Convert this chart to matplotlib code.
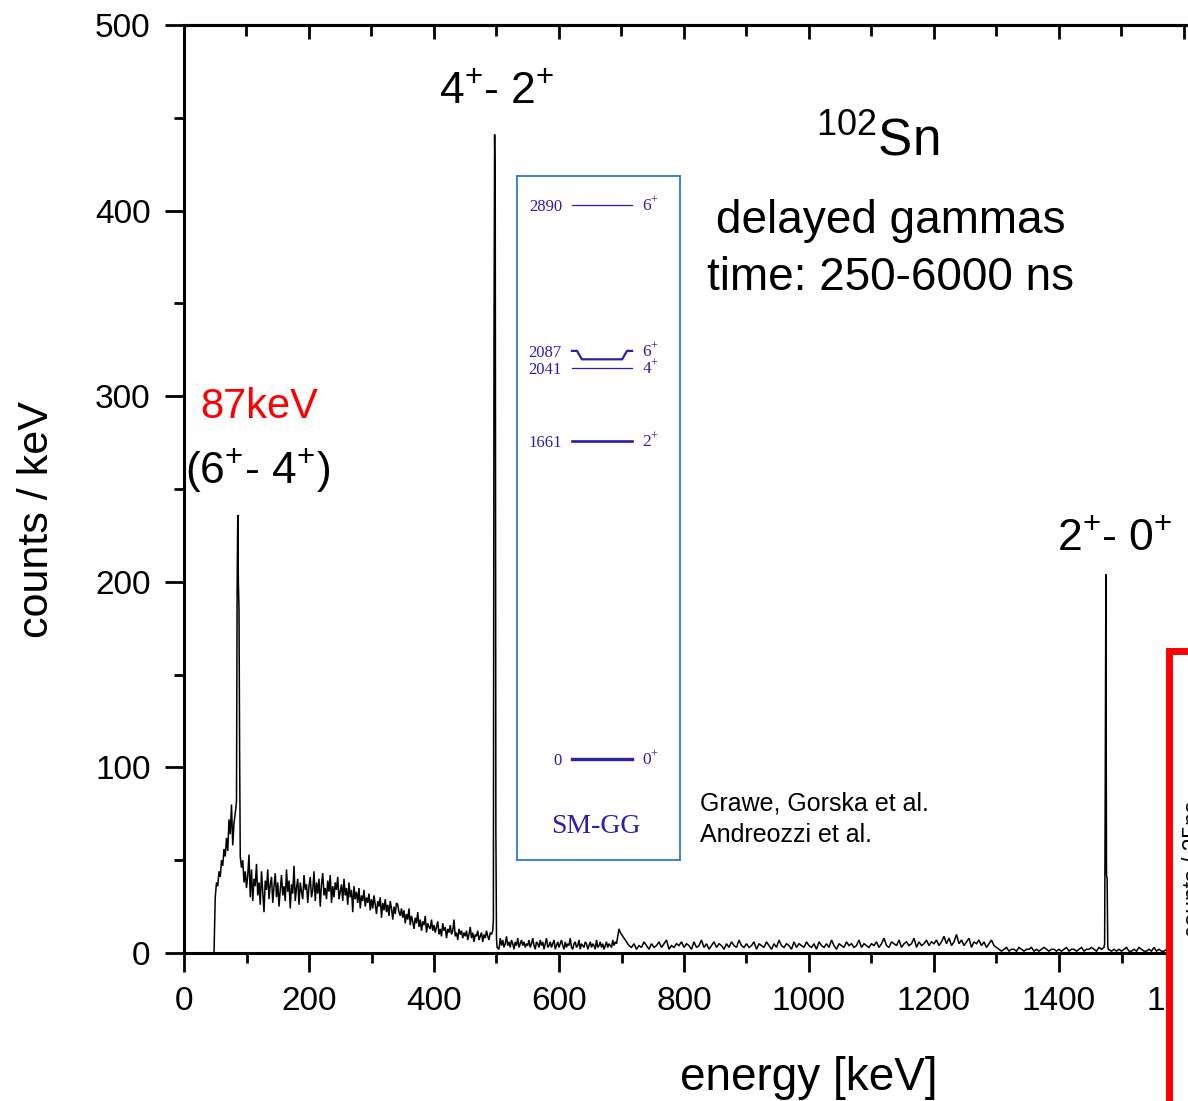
import numpy as np
import matplotlib
matplotlib.use("Agg")
import matplotlib.pyplot as plt
from matplotlib.patches import Rectangle
from matplotlib.ticker import MultipleLocator

plt.rcParams['font.family'] = ['Liberation Sans', 'DejaVu Sans']

# ---------------- data ----------------
# low-energy part of the spectrum, 2 keV sampling
low_start_kev = 48
low_step_kev = 2
low_counts = (
    [0, 30, 38, 36, 44, 41, 50, 47, 56, 52, 62, 55, 72, 64, 80, 58, 70, 76, 80, 90, 80, 70, 46, 50, 38, 44] +
    [35, 42, 53, 30, 45, 28, 40, 36, 48, 31, 38, 26, 44, 33, 22, 39, 34, 45, 29, 37, 41, 27, 36, 43, 30] +
    [38, 25, 34, 42, 31, 36, 28, 45, 33, 39, 24, 37, 32, 47, 28, 35, 40, 26, 38, 33, 29, 42, 34, 37, 27] +
    [36, 41, 30, 34, 44, 28, 38, 32, 40, 25, 37, 43, 31, 35, 29, 39, 33, 42, 27, 36, 30, 38, 34, 41, 29] +
    [33, 37, 28, 40, 31, 35, 26, 38, 30, 34, 22, 36, 29, 33, 27, 35, 24, 31, 28, 34, 25, 30, 27, 32, 23] +
    [29, 24, 31, 26, 21, 28, 25, 30, 19, 27, 23, 29, 22, 26, 20, 28, 24, 18, 25, 21, 27, 26, 22, 20, 24] +
    [19, 23, 16, 21, 18, 24, 15, 20, 17, 13, 19, 16, 22, 14, 18, 12, 17, 15, 20, 11, 16, 14, 13, 18, 12] +
    [15, 11, 14, 17, 10, 13, 9, 16, 12, 14, 8, 13, 11, 15, 10, 12, 18, 9, 11, 7, 13, 10, 12, 8, 11] +
    [9, 12, 7, 10, 14, 8, 11, 6, 10, 9, 12, 7, 9, 11, 6, 10, 8, 12, 9, 7, 11, 10, 14, 12, 10] +
    [3, 5, 2, 8, 4, 7, 3, 5, 9, 4, 6, 3, 7, 5, 2, 6, 4, 8, 3, 5, 7, 4, 6, 3, 5] +
    [4, 7, 3, 5, 8, 4, 2, 6, 5, 3, 7, 4, 6, 2, 5, 8, 3, 4, 6, 3, 5, 7, 2, 4, 6] +
    [3, 5, 7, 4, 2, 6, 3, 5, 4, 8, 3, 2, 5, 6, 3, 4, 7, 2, 5, 4, 3, 6, 5, 2, 4] +
    [6, 3, 5, 4, 2, 7, 3, 4, 6, 3, 5, 2, 4, 6, 3, 5, 4, 3, 7, 4, 6, 5, 9, 13, 11]
)
# higher-energy part, 4 keV sampling
high_start_kev = 700
high_step_kev = 4
high_counts = (
    [10, 8, 6, 4, 3, 5, 2, 4, 3, 6, 4, 2, 5, 3, 4, 6, 3, 5, 7, 2, 4, 3, 5, 4, 6] +
    [3, 5, 4, 2, 6, 3, 4, 7, 3, 5, 2, 4, 6, 3, 5, 4, 2, 5, 3, 6, 4, 3, 7, 4, 3] +
    [5, 3, 4, 6, 2, 5, 4, 3, 6, 4, 2, 5, 3, 7, 4, 3, 5, 4, 2, 6, 3, 5, 4, 3, 6] +
    [4, 3, 5, 2, 6, 4, 3, 5, 3, 7, 4, 2, 5, 4, 3, 6, 4, 5, 3, 4, 7, 3, 5, 4, 3] +
    [5, 4, 6, 3, 5, 8, 4, 3, 6, 5, 4, 7, 3, 5, 6, 4, 5, 8, 3, 6, 4, 5, 7, 4, 6] +
    [5, 7, 4, 6, 9, 5, 8, 4, 6, 10, 5, 7, 4, 6, 8, 3, 6, 5, 7, 4, 6, 3, 5, 7, 4] +
    [3, 2, 1, 2, 3, 1, 2, 2, 1, 3, 2, 1, 2, 2, 3, 1, 2, 1, 2, 3, 2, 1, 2, 2, 1] +
    [2, 1, 2, 3, 1, 2, 2, 1, 2, 3, 1, 2, 2, 3, 2, 1, 3, 2, 3, 4, 2, 1, 2, 1, 2] +
    [1, 2, 3, 1, 1, 2, 1, 3, 2, 1, 1, 2, 1, 3, 1, 2, 1, 1, 2, 1, 2, 1, 1, 2, 1, 1, 2, 1]
)

peak87_energy = [83, 84, 85, 86, 87, 88, 89, 90]
peak87_counts = [78, 82, 196, 236, 200, 185, 108, 52]
peak497_energy = [494, 495, 496, 497, 498, 499, 500, 501]
peak497_counts = [12, 18, 330, 441, 403, 65, 8, 3]
peak1475_energy = [1472, 1473, 1474, 1475, 1476, 1477, 1478, 1479]
peak1475_counts = [3, 5, 90, 204, 42, 40, 4, 2]

x_ticks_major = [0, 200, 400, 600, 800, 1000, 1200, 1400, 1600, 1800, 2000]
y_ticks_major = [0, 100, 200, 300, 400, 500]

level_energy = [0, 1661, 2041, 2087, 2890]
level_label = ['0', '1661', '2041', '2087', '2890']
level_spin = ['0', '2', '4', '6', '6']
level_width = [2.4, 1.9, 0.9, 1.6, 0.9]

# ---------------- build spectrum ----------------
low_energy = low_start_kev + low_step_kev * np.arange(len(low_counts))
high_energy = high_start_kev + high_step_kev * np.arange(len(high_counts))
E = list(low_energy) + list(high_energy)
C = list(low_counts) + list(high_counts)
windows = [(min(p) - 1, max(p) + 1) for p in (peak87_energy, peak497_energy, peak1475_energy)]
keepE, keepC = [], []
for e, c in zip(E, C):
    if not any(lo <= e <= hi for lo, hi in windows):
        keepE.append(e)
        keepC.append(c)
allE = np.array(keepE + peak87_energy + peak497_energy + peak1475_energy, dtype=float)
allC = np.array(keepC + peak87_counts + peak497_counts + peak1475_counts, dtype=float)
order = np.argsort(allE)
allE, allC = allE[order], allC[order]

# ---------------- figure ----------------
W, H = 1188, 1101
fig = plt.figure(figsize=(W / 100, H / 100), dpi=100)
fig.patch.set_facecolor('white')

ax_left, ax_bottom, ax_top = 184, 953, 25
px_per_kev = 0.625
xmax = 2000
ax = fig.add_axes([ax_left / W, (H - ax_bottom) / H, xmax * px_per_kev / W, (ax_bottom - ax_top) / H])
ax.plot(allE, allC, color='black', lw=1.1, solid_joinstyle='miter')
ax.set_xlim(0, xmax)
ax.set_ylim(0, 500)

spine_lw = 2.2
for s in ['left', 'bottom', 'top']:
    ax.spines[s].set_linewidth(spine_lw)
ax.spines['right'].set_visible(False)

ax.set_xticks(x_ticks_major)
ax.set_yticks(y_ticks_major)
ax.xaxis.set_minor_locator(MultipleLocator(100))
ax.yaxis.set_minor_locator(MultipleLocator(50))
ax.tick_params(which='major', direction='out', length=14, width=2.0, labelsize=24, pad=10)
ax.tick_params(which='minor', direction='out', length=7, width=2.0)
ax.tick_params(top=False, right=False, which='both')

sec = ax.secondary_xaxis('top')
sec.set_xticks(x_ticks_major)
sec.xaxis.set_minor_locator(MultipleLocator(100))
sec.set_xticklabels([])
sec.tick_params(which='major', direction='in', length=10, width=2.0)
sec.tick_params(which='minor', direction='in', length=8, width=2.0)
sec.spines['top'].set_linewidth(spine_lw)

ax.set_xlabel('energy [keV]', fontsize=33)
ax.xaxis.set_label_coords(0.5, -0.135)
ax.xaxis.label.set_va('center')
ax.set_ylabel('counts / keV', fontsize=31)
ax.yaxis.set_label_coords(-0.118, 0.467)
ax.yaxis.label.set_va('center')

# annotations
sup = r'$^{\mathregular{+}}$'
ax.text(500, 458, '4' + sup + '- 2' + sup, fontsize=32, ha='center', va='baseline')
ax.text(1110, 430, r'$^{\mathregular{102}}$Sn', fontsize=37, ha='center', va='baseline')
ax.text(1131, 388, 'delayed gammas', fontsize=33, ha='center', va='baseline')
ax.text(1131, 357, 'time: 250-6000 ns', fontsize=33, ha='center', va='baseline')
ax.text(120, 288, '87keV', fontsize=30, ha='center', va='baseline', color='#FF0000')
ax.text(117, 253, '(6' + sup + '- 4' + sup + ')', fontsize=32, ha='center', va='baseline')
ax.text(1490, 217, '2' + sup + '- 0' + sup, fontsize=32, ha='center', va='baseline')
ax.text(826, 77, 'Grawe, Gorska et al.', fontsize=18, ha='left', va='baseline')
ax.text(826, 60, 'Andreozzi et al.', fontsize=18, ha='left', va='baseline')

# ---------------- inset level scheme ----------------
lvl_color = '#2B1DB0'
serif = ['Liberation Serif', 'DejaVu Serif']
ins_l, ins_r, ins_t, ins_b = 517, 680, 176, 860
ins = fig.add_axes([ins_l / W, (H - ins_b) / H, (ins_r - ins_l) / W, (ins_b - ins_t) / H])
ins.set_xlim(0, 1)
ins.set_ylim(-527, 3044)
ins.set_xticks([])
ins.set_yticks([])
for s in ins.spines.values():
    s.set_color('#2C7BD5')
    s.set_linewidth(1.3)

x0, x1 = 0.337, 0.706
for e, lab, spin, lw in zip(level_energy, level_label, level_spin, level_width):
    if lab == '2087':
        ey = e + 44
        ins.plot([x0, 0.368, 0.398, 0.645, 0.675, x1], [ey, ey, e, e, ey, ey],
                 color=lvl_color, lw=lw, solid_joinstyle='miter')
        ly = ey
    else:
        ins.plot([x0, x1], [e, e], color=lvl_color, lw=lw)
        ly = e
    ins.text(0.276, ly, lab, fontsize=12, family=serif,
             color=lvl_color, ha='right', va='center_baseline')
    ins.annotate(spin + r'$^{\mathregular{+}}$', xy=(0.767, ly), xytext=(0, -4.5),
                 textcoords='offset points', fontsize=12.5, family=serif,
                 color=lvl_color, ha='left', va='baseline')
ins.text(0.485, -350, 'SM-GG', fontsize=20, family=serif,
         color=lvl_color, ha='center', va='center')

# ---------------- red overlay box (cropped second chart) ----------------
rect = Rectangle((1169 / W, -0.1), 0.3, (H - 651) / H + 0.1, transform=fig.transFigure,
                 facecolor='white', edgecolor='#FF0000', lw=5, zorder=10, clip_on=False)
fig.patches.append(rect)
fig.text(1182 / W, (H - 937) / H, 'counts / 25ns', rotation=90, fontsize=16.5,
         ha='left', va='bottom', zorder=11)

fig.savefig('out.png', dpi=100)
